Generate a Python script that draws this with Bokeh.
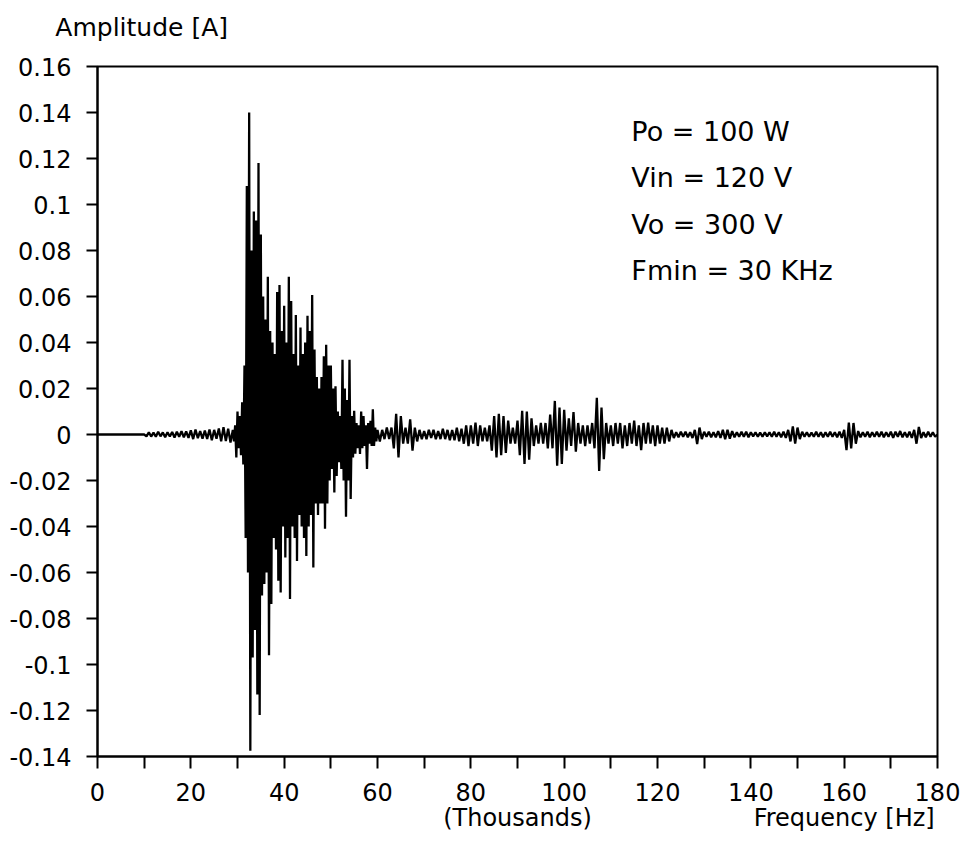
from bokeh.plotting import figure
from bokeh.models import FixedTicker, Label, Range1d, LinearAxis
from bokeh.embed import file_html
from bokeh.resources import INLINE

# ---------------- data (frequency in thousands of Hz, amplitude in A) ----------------
freq_flat = [0.0, 10.0]
amp_flat = [0.0, 0.0]

freq_pre = [10.5, 11.0, 11.5, 12.0, 12.5, 13.0, 13.5, 14.0, 14.5, 15.0,
            15.5, 16.0, 16.5, 17.0, 17.5, 18.0, 18.5, 19.0, 19.5, 20.0,
            20.5, 21.0, 21.5, 22.0, 22.5, 23.0, 23.5, 24.0, 24.5, 25.0,
            25.5, 26.0, 26.5, 27.0, 27.5, 28.0, 28.5]
amp_pre = [-0.0008, 0.0010, -0.0009, 0.0008, -0.0010, 0.0012, -0.0008, 0.0009, -0.0012, 0.0010,
           -0.0009, 0.0011, -0.0013, 0.0012, -0.0010, 0.0014, -0.0012, 0.0013, -0.0015, 0.0018,
           -0.0020, 0.0022, -0.0016, 0.0015, -0.0018, 0.0017, -0.0019, 0.0022, -0.0025, 0.0020,
           -0.0018, 0.0026, -0.0030, 0.0032, -0.0028, 0.0025, -0.0035]

freq_burst = [29.0, 29.25, 29.5, 29.75, 30.0, 30.25, 30.5, 30.75,
              31.0, 31.25, 31.5, 31.75, 32.0, 32.25, 32.5, 32.75,
              33.0, 33.25, 33.5, 33.75, 34.0, 34.25, 34.5, 34.75,
              35.0, 35.25, 35.5, 35.75, 36.0, 36.25, 36.5, 36.75,
              37.0, 37.25, 37.5, 37.75, 38.0, 38.25, 38.5, 38.75,
              39.0, 39.25, 39.5, 39.75, 40.0, 40.25, 40.5, 40.75,
              41.0, 41.25, 41.5, 41.75, 42.0, 42.25, 42.5, 42.75,
              43.0, 43.25, 43.5, 43.75, 44.0, 44.25, 44.5, 44.75,
              45.0, 45.25, 45.5, 45.75, 46.0, 46.25, 46.5, 46.75,
              47.0, 47.25, 47.5, 47.75, 48.0, 48.25, 48.5, 48.75,
              49.0, 49.25, 49.5, 49.75, 50.0, 50.25, 50.5, 50.75,
              51.0, 51.25, 51.5, 51.75, 52.0, 52.25, 52.5, 52.75,
              53.0, 53.25, 53.5, 53.75, 54.0, 54.25, 54.5, 54.75,
              55.0, 55.25, 55.5, 55.75, 56.0, 56.25, 56.5, 56.75,
              57.0, 57.25, 57.5, 57.75, 58.0, 58.25, 58.5, 58.75,
              59.0, 59.25, 59.5, 59.75, 60.0]
amp_burst = [0.002, -0.003, 0.004, -0.010, 0.010, -0.006, 0.008, -0.009,
             0.014, -0.013, 0.030, -0.045, 0.108, -0.060, 0.140, -0.1375,
             0.080, -0.097, 0.097, -0.085, 0.093, -0.113, 0.118, -0.122,
             0.087, -0.070, 0.060, -0.065, 0.050, -0.060, 0.0686, -0.096,
             0.045, -0.0737, 0.040, -0.045, 0.035, -0.050, 0.062, -0.0636,
             0.065, -0.0687, 0.045, -0.040, 0.056, -0.0535, 0.040, -0.045,
             0.0686, -0.0715, 0.058, -0.040, 0.035, -0.045, 0.052, -0.055,
             0.030, -0.035, 0.0465, -0.040, 0.035, -0.045, 0.040, -0.0528,
             0.0516, -0.040, 0.045, -0.035, 0.0607, -0.0578, 0.037, -0.030,
             0.025, -0.035, 0.020, -0.030, 0.025, -0.030, 0.034, -0.041,
             0.039, -0.030, 0.030, -0.020, 0.030, -0.015, 0.020, -0.0252,
             0.021, -0.018, 0.010, -0.012, 0.008, -0.015, 0.0325, -0.020,
             0.020, -0.0358, 0.015, -0.020, 0.0325, -0.028, 0.008, -0.010,
             0.0103, -0.0084, 0.005, -0.006, 0.004, -0.0085, 0.010, -0.006,
             0.008, -0.005, 0.004, -0.015, 0.005, -0.004, 0.006, -0.005,
             0.011, -0.005, 0.003, -0.003, 0.002]

freq_tail = [60.5, 61.0, 61.5, 62.0, 62.5, 63.0, 63.5, 64.0, 64.5, 65.0,
             65.5, 66.0, 66.5, 67.0, 67.5, 68.0, 68.5, 69.0, 69.5, 70.0,
             70.5, 71.0, 71.5, 72.0, 72.5, 73.0, 73.5, 74.0, 74.5, 75.0,
             75.5, 76.0, 76.5, 77.0, 77.5, 78.0, 78.5, 79.0, 79.5, 80.0,
             80.5, 81.0, 81.5, 82.0, 82.5, 83.0, 83.5, 84.0, 84.5, 85.0,
             85.5, 86.0, 86.5, 87.0, 87.5, 88.0, 88.5, 89.0, 89.5, 90.0,
             90.5, 91.0, 91.5, 92.0, 92.5, 93.0, 93.5, 94.0, 94.5, 95.0,
             95.5, 96.0, 96.5, 97.0, 97.5, 98.0, 98.5, 99.0, 99.5, 100.0,
             100.5, 101.0, 101.5, 102.0, 102.5, 103.0, 103.5, 104.0, 104.5, 105.0,
             105.5, 106.0, 106.5, 107.0, 107.5, 108.0, 108.5, 109.0, 109.5, 110.0,
             110.5, 111.0, 111.5, 112.0, 112.5, 113.0, 113.5, 114.0, 114.5, 115.0,
             115.5, 116.0, 116.5, 117.0, 117.5, 118.0, 118.5, 119.0, 119.5, 120.0,
             120.5, 121.0, 121.5, 122.0, 122.5, 123.0, 123.5, 124.0, 124.5, 125.0,
             125.5, 126.0, 126.5, 127.0, 127.5, 128.0, 128.5, 129.0, 129.5, 130.0,
             130.5, 131.0, 131.5, 132.0, 132.5, 133.0, 133.5, 134.0, 134.5, 135.0,
             135.5, 136.0, 136.5, 137.0, 137.5, 138.0, 138.5, 139.0, 139.5, 140.0,
             140.5, 141.0, 141.5, 142.0, 142.5, 143.0, 143.5, 144.0, 144.5, 145.0,
             145.5, 146.0, 146.5, 147.0, 147.5, 148.0, 148.5, 149.0, 149.5, 150.0,
             150.5, 151.0, 151.5, 152.0, 152.5, 153.0, 153.5, 154.0, 154.5, 155.0,
             155.5, 156.0, 156.5, 157.0, 157.5, 158.0, 158.5, 159.0, 159.5, 160.0,
             160.5, 161.0, 161.5, 162.0, 162.5, 163.0, 163.5, 164.0, 164.5, 165.0,
             165.5, 166.0, 166.5, 167.0, 167.5, 168.0, 168.5, 169.0, 169.5, 170.0,
             170.5, 171.0, 171.5, 172.0, 172.5, 173.0, 173.5, 174.0, 174.5, 175.0,
             175.5, 176.0, 176.5, 177.0, 177.5, 178.0, 178.5, 179.0, 179.5, 180.0]
amp_tail = [-0.003, 0.002, -0.002, 0.003, -0.002, 0.003, -0.006, 0.009, -0.010, 0.008,
            -0.004, 0.003, -0.004, 0.0066, -0.007, 0.003, -0.003, 0.002, -0.002, 0.0015,
            -0.002, 0.002, -0.0015, 0.002, -0.002, 0.0015, -0.002, 0.0025, -0.002, 0.002,
            -0.0025, 0.002, -0.0025, 0.003, -0.003, 0.0025, -0.004, 0.004, -0.005, 0.004,
            -0.004, 0.0052, -0.005, 0.004, -0.003, 0.003, -0.003, 0.004, -0.007, 0.008,
            -0.010, 0.009, -0.009, 0.008, -0.008, 0.006, -0.004, 0.003, -0.004, 0.006,
            -0.009, 0.0103, -0.0128, 0.010, -0.011, 0.007, -0.005, 0.004, -0.004, 0.005,
            -0.004, 0.005, -0.006, 0.0087, -0.006, 0.0146, -0.0136, 0.0117, -0.0128, 0.0107,
            -0.007, 0.007, -0.005, 0.0098, -0.0075, 0.005, -0.004, 0.004, -0.005, 0.004,
            -0.004, 0.005, -0.006, 0.016, -0.0158, 0.0117, -0.0107, 0.005, -0.004, 0.004,
            -0.005, 0.005, -0.004, 0.005, -0.006, 0.004, -0.005, 0.005, -0.004, 0.006,
            -0.005, 0.004, -0.0068, 0.005, -0.004, 0.0052, -0.004, 0.004, -0.005, 0.004,
            -0.004, 0.003, -0.004, 0.003, -0.003, 0.002, -0.0015, 0.001, -0.0012, 0.0012,
            -0.001, 0.0012, -0.0012, 0.001, -0.0015, 0.002, -0.0042, 0.003, -0.002, 0.0012,
            -0.001, 0.0012, -0.0012, 0.001, -0.0012, 0.0015, -0.0015, 0.002, -0.002, 0.002,
            -0.0018, 0.0015, -0.0012, 0.001, -0.001, 0.0012, -0.001, 0.0012, -0.0012, 0.001,
            -0.0008, 0.001, -0.001, 0.0008, -0.001, 0.001, -0.0008, 0.001, -0.001, 0.0012,
            -0.001, 0.001, -0.0012, 0.0012, -0.0015, 0.002, -0.003, 0.0035, -0.004, 0.003,
            -0.002, 0.0012, -0.001, 0.001, -0.001, 0.0008, -0.001, 0.0012, -0.001, 0.001,
            -0.0012, 0.001, -0.001, 0.0012, -0.001, 0.001, -0.0012, 0.0012, -0.0015, 0.002,
            -0.0068, 0.0052, -0.006, 0.005, -0.004, 0.0015, -0.0012, 0.001, -0.001, 0.0012,
            -0.0012, 0.001, -0.001, 0.0012, -0.001, 0.0012, -0.0012, 0.001, -0.001, 0.0012,
            -0.0015, 0.0012, -0.001, 0.0015, -0.0012, 0.001, -0.0012, 0.0012, -0.0015, 0.002,
            -0.004, 0.0033, -0.0015, 0.001, -0.0012, 0.0012, -0.001, 0.001, -0.001, 0.0]

x_ticks = [0, 10, 20, 30, 40, 50, 60, 70, 80, 90, 100, 110, 120, 130, 140, 150, 160, 170, 180]
x_tick_labels = ["0", "", "20", "", "40", "", "60", "", "80", "\n(Thousands)", "100", "", "120",
                 "", "140", "", "160\nFrequency [Hz]", "", "180"]
y_ticks = [-0.14, -0.12, -0.1, -0.08, -0.06, -0.04, -0.02, 0.0, 0.02, 0.04, 0.06, 0.08,
           0.1, 0.12, 0.14, 0.16]
y_tick_labels = ["-0.14", "-0.12", "-0.1", "-0.08", "-0.06", "-0.04", "-0.02", "0", "0.02",
                 "0.04", "0.06", "0.08", "0.1", "0.12", "0.14", "0.16"]
y_title = "Amplitude [A]"
y_title_pos = 9.47   # horizontal centre of the y title, in x units

info_lines = ["Po = 100 W", "Vin = 120 V", "Vo = 300 V", "Fmin = 30 KHz"]
info_y = [0.1316, 0.1117, 0.0915, 0.0712]

assert len(freq_pre) == len(amp_pre)
assert len(freq_burst) == len(amp_burst)
assert len(freq_tail) == len(amp_tail)

freq = freq_flat + freq_pre + freq_burst + freq_tail
amp = amp_flat + amp_pre + amp_burst + amp_tail

FONT = "DejaVu Sans"

p = figure(width=963, height=851, output_backend="svg", toolbar_location=None,
           x_range=Range1d(0, 180), y_range=Range1d(-0.14, 0.16),
           min_border_left=97, min_border_right=26, min_border_top=66, min_border_bottom=95)
p.background_fill_color = "white"
p.border_fill_color = "white"
p.outline_line_color = "black"
p.outline_line_width = 2
p.grid.visible = False

p.line(freq, amp, line_color="black", line_width=2.3)

p.xaxis.ticker = FixedTicker(ticks=x_ticks)
p.xaxis.major_label_overrides = {t: s for t, s in zip(x_ticks, x_tick_labels)}
p.yaxis.ticker = FixedTicker(ticks=y_ticks)
p.yaxis.major_label_overrides = {t: s for t, s in zip(y_ticks, y_tick_labels)}

for ax in (p.xaxis[0], p.yaxis[0]):
    ax.axis_line_color = "black"
    ax.axis_line_width = 2
    ax.major_tick_line_color = "black"
    ax.major_tick_line_width = 2
    ax.major_tick_in = 0
    ax.minor_tick_in = 0
    ax.minor_tick_out = 0
    ax.major_label_text_font = FONT
    ax.major_label_text_font_size = "24px"
    ax.major_label_text_color = "black"

p.xaxis.major_tick_out = 12
p.xaxis.major_label_standoff = 10
p.xaxis.major_label_text_line_height = 0.9
p.yaxis.major_tick_out = 11
p.yaxis.major_label_standoff = 15

# y-axis title, drawn above the frame as the single label of a bare top axis
top_ax = LinearAxis(ticker=FixedTicker(ticks=[y_title_pos]),
                    major_label_overrides={y_title_pos: y_title},
                    axis_line_color=None, major_tick_line_color=None,
                    major_tick_in=0, major_tick_out=0, minor_tick_in=0, minor_tick_out=0,
                    minor_tick_line_color=None,
                    major_label_standoff=25, major_label_text_font=FONT,
                    major_label_text_font_size="25px", major_label_text_color="black")
p.add_layout(top_ax, "above")

for txt, yy in zip(info_lines, info_y):
    p.add_layout(Label(x=114.4, y=yy, text=txt, text_font=FONT, text_font_size="27px",
                       text_color="black", text_align="left", text_baseline="alphabetic"))

open("out.html", "w").write(file_html(p, INLINE))
